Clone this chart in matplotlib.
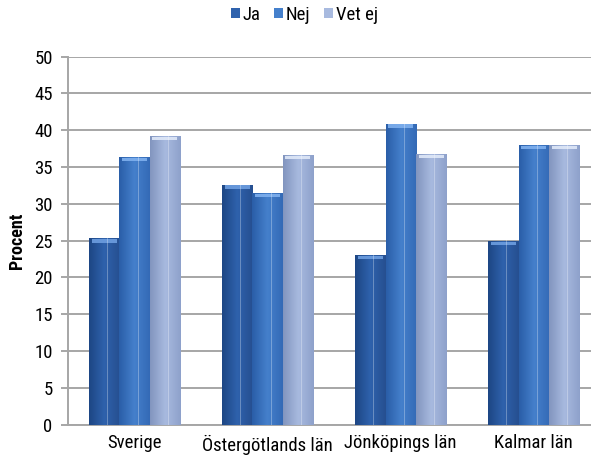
import numpy as np
import matplotlib
matplotlib.use("Agg")
import matplotlib.pyplot as plt
from matplotlib.colors import LinearSegmentedColormap
from matplotlib.patches import Patch
from matplotlib import font_manager

names = {f.name for f in font_manager.fontManager.ttflist}
narrow = [n for n in ["Liberation Sans Narrow", "Roboto Condensed", "DejaVu Sans"] if n in names]
plt.rcParams['font.family'] = narrow + ['DejaVu Sans']
plt.rcParams['font.stretch'] = 'condensed'

categories = ["Sverige", "Östergötlands län", "Jönköpings län", "Kalmar län"]
series = ["Ja", "Nej", "Vet ej"]
ja = [25.3, 32.6, 23.0, 24.9]
nej = [36.4, 31.5, 40.9, 38.0]
vet_ej = [39.2, 36.6, 36.8, 38.0]
yticks = list(range(0, 55, 5))

# left edge, middle, right edge of each bar's shading
shades = {
    "Ja": ["#1d4684", "#2f62ad", "#264f90"],
    "Nej": ["#2a5ea8", "#4580cc", "#346ab6"],
    "Vet ej": ["#8295bf", "#a8badf", "#8ea1cb"],
}
caps = {"Ja": "#6d9ee0", "Nej": "#7fb0ee", "Vet ej": "#dfe8f8"}

fig = plt.figure(figsize=(5.91, 4.55), dpi=100)
ax = fig.add_axes([0.115, 0.0666, 0.885, 0.8088])

x = np.arange(len(categories))
w = 0.228
gridc = "#a6a6a6"
fs = 13.5

for y in yticks:
    ax.axhline(y, color=gridc, lw=1.4, zorder=0)

for k, (name, vals) in enumerate(zip(series, [ja, nej, vet_ej])):
    cmap = LinearSegmentedColormap.from_list(name, shades[name])
    grad = np.linspace(0, 1, 64).reshape(1, -1)
    for xi, v in zip(x, vals):
        left = xi + (k - 1) * w - w / 2
        bar = ax.bar(left, v, width=w, align="edge", color=shades[name][1],
                     edgecolor="none", zorder=2)[0]
        im = ax.imshow(grad, cmap=cmap, extent=[left, left + w, 0, v],
                       aspect="auto", zorder=3, interpolation="bicubic")
        im.set_clip_path(bar)
        # light rim at the top of the bar
        ax.fill_between([left + 0.02, left + w - 0.02], v - 0.55, v - 0.1,
                        color=caps[name], lw=0, zorder=4, alpha=0.9)
        # faint back outline
        ax.plot([left + w * 0.6, left + w * 0.6], [0, v + 0.5], color="white",
                lw=0.6, alpha=0.35, zorder=4)

ax.set_xlim(-0.5, 3.43)
ax.set_ylim(0, 50)
ax.set_yticks(yticks)
ax.set_xticks(x)
ax.set_xticklabels(categories, fontsize=fs)
ax.tick_params(axis="y", labelsize=fs, length=5, color=gridc, width=1.4, pad=6)
ax.tick_params(axis="x", length=0, pad=7)
ax.set_ylabel("Procent", fontsize=13, fontweight="bold", labelpad=6)

for s in ["top", "right"]:
    ax.spines[s].set_visible(False)
ax.spines["left"].set_color(gridc)
ax.spines["left"].set_linewidth(1.4)
ax.spines["bottom"].set_color(gridc)
ax.spines["bottom"].set_linewidth(1.4)

handles = [Patch(facecolor=shades[s][1], edgecolor="none") for s in series]
fig.legend(handles, series, loc="center", bbox_to_anchor=(0.515, 0.968),
           ncol=3, frameon=False, fontsize=fs, handlelength=0.5,
           handleheight=0.5, handletextpad=0.15, columnspacing=0.7)

fig.savefig("out.png", dpi=100)
